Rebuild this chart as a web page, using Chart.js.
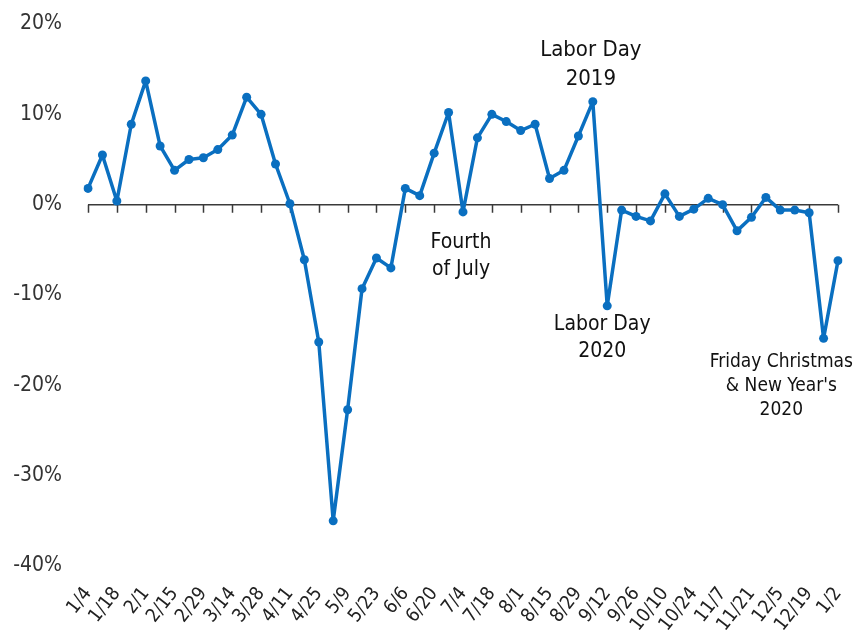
<!DOCTYPE html>
<html>
<head>
<meta charset="utf-8">
<script src="https://cdn.jsdelivr.net/npm/chart.js@4"></script>
<style>
  html, body { margin: 0; padding: 0; background: #fff; }
  canvas { display: block; }
</style>
</head>
<body>
<canvas id="myChart" width="856" height="637"></canvas>
<script>
const weeks = [
  '1/4', '1/11', '1/18', '1/25', '2/1', '2/8', '2/15', '2/22', '2/29', '3/7',
  '3/14', '3/21', '3/28', '4/4', '4/11', '4/18', '4/25', '5/2', '5/9', '5/16',
  '5/23', '5/30', '6/6', '6/13', '6/20', '6/27', '7/4', '7/11', '7/18', '7/25',
  '8/1', '8/8', '8/15', '8/22', '8/29', '9/5', '9/12', '9/19', '9/26', '10/3',
  '10/10', '10/17', '10/24', '10/31', '11/7', '11/14', '11/21', '11/28', '12/5', '12/12',
  '12/19', '12/26', '1/2'
]

const salesChange = [
  1.8, 5.5, 0.4, 8.9, 13.7, 6.5, 3.8, 5.0, 5.2, 6.1,
  7.7, 11.9, 10.0, 4.5, 0.1, -6.1, -15.2, -35.0, -22.7, -9.3,
  -5.9, -7.0, 1.8, 1.0, 5.7, 10.2, -0.8, 7.4, 10.0, 9.2,
  8.2, 8.9, 2.9, 3.8, 7.6, 11.4, -11.2, -0.6, -1.3, -1.8,
  1.2, -1.3, -0.5, 0.7, 0.0, -2.9, -1.4, 0.8, -0.6, -0.6,
  -0.9, -14.8, -6.2
]

const notes = [
  { index: 35, lines: ['Labor Day', '2019'] },
  { index: 26, lines: ['Fourth', 'of July'] },
  { index: 36, lines: ['Labor Day', '2020'] },
  { index: 51, lines: ['Friday Christmas', '& New Year\'s', '2020'] }
]

const FONT = '"Liberation Sans Narrow", "DejaVu Sans Condensed", "Roboto", sans-serif'
const BLUE = '#0a6fc0'

// zero line with a tick under every labelled week
const zeroAxis = {
  id: 'zeroAxis',
  beforeDatasetsDraw(chart) {
    const { ctx, chartArea, scales: { x, y } } = chart
    const y0 = y.getPixelForValue(0)
    ctx.save()
    ctx.strokeStyle = '#3a3a3a'
    ctx.lineWidth = 1.5
    ctx.beginPath()
    ctx.moveTo(chartArea.left, y0)
    ctx.lineTo(chartArea.right, y0)
    weeks.forEach((w, i) => {
      if (i % 2 === 0) {
        const px = Math.round(x.getPixelForValue(i)) + 0.5
        ctx.moveTo(px, y0)
        ctx.lineTo(px, y0 + 8)
      }
    })
    ctx.stroke()
    ctx.restore()
  }
}

// text placement for each note (offsets from its point)
const noteStyle = [
  { dx: -2, dy: -51, size: 22, lh: 29 },
  { dx: -2, dy: 31, size: 21, lh: 27 },
  { dx: -5, dy: 19, size: 21, lh: 27 },
  { dx: 0, dy: 24, size: 19, lh: 24 }
]

const noteLabels = {
  id: 'noteLabels',
  afterDatasetsDraw(chart) {
    const { ctx, scales: { x, y } } = chart
    ctx.save()
    ctx.fillStyle = '#111'
    ctx.textAlign = 'center'
    ctx.textBaseline = 'middle'
    notes.forEach((n, k) => {
      const st = noteStyle[k]
      ctx.font = st.size + 'px ' + FONT
      const widest = Math.max(...n.lines.map(l => ctx.measureText(l).width))
      let cx = x.getPixelForValue(n.index) + st.dx
      cx = Math.min(cx, chart.width - widest / 2 - 3)
      const cy = y.getPixelForValue(salesChange[n.index]) + st.dy
      n.lines.forEach((line, j) => ctx.fillText(line, cx, cy + j * st.lh))
    })
    ctx.restore()
  }
}

const printChart = () => {
  const ctx = document.getElementById('myChart').getContext('2d')
  const chart = new Chart(ctx, {
    type: 'line',
    data: {
      labels: weeks,
      datasets: [
        {
          data: salesChange,
          borderColor: BLUE,
          backgroundColor: BLUE,
          borderWidth: 3.5,
          borderJoinStyle: 'round',
          borderCapStyle: 'round',
          pointRadius: 4.5,
          pointHoverRadius: 4.5,
          pointBorderWidth: 0,
          tension: 0
        }
      ]
    },
    options: {
      responsive: false,
      animation: false,
      devicePixelRatio: 1,
      layout: { padding: { top: 24, right: 18, left: 0, bottom: 0 } },
      plugins: { legend: { display: false }, tooltip: { enabled: false } },
      scales: {
        x: {
          grid: { display: false, drawTicks: false },
          border: { display: false },
          ticks: {
            autoSkip: false,
            minRotation: 52,
            maxRotation: 52,
            padding: 17,
            color: '#222',
            font: { family: FONT, size: 19 },
            callback: (v, i) => (i % 2 === 0 ? weeks[i] : '')
          },
          afterFit: s => {
            s.height = 71
            s.paddingLeft = 0
            s.paddingRight = 0
          }
        },
        y: {
          min: -40,
          max: 20,
          grid: { display: false, drawTicks: false },
          border: { display: false },
          ticks: {
            stepSize: 10,
            padding: 26,
            color: '#333',
            font: { family: FONT, size: 21 },
            callback: v => v + '%'
          },
          afterFit: s => {
            s.width = 88
            s.paddingTop = 0
            s.paddingBottom = 0
          }
        }
      }
    },
    plugins: [zeroAxis, noteLabels]
  })
}

printChart()
</script>
</body>
</html>
